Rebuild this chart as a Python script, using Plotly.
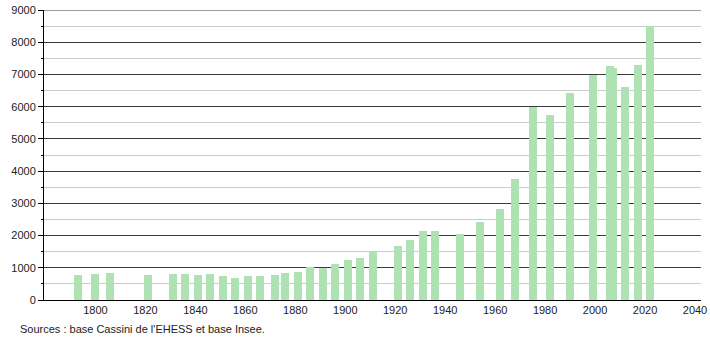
import plotly.graph_objects as go

years = [1793, 1800, 1806, 1821, 1831, 1836, 1841, 1846, 1851, 1856, 1861, 1866,
         1872, 1876, 1881, 1886, 1891, 1896, 1901, 1906, 1911, 1921, 1926, 1931,
         1936, 1946, 1954, 1962, 1968, 1975, 1982, 1990, 1999, 2006, 2007, 2012,
         2017, 2022]
population = [780, 810, 840, 770, 807, 807, 770, 807, 745, 690, 745, 745,
              775, 830, 870, 1010, 1000, 1117, 1250, 1313, 1480, 1676, 1872, 2141,
              2141, 2048, 2421, 2824, 3755, 5980, 5742, 6415, 6983, 7253, 7200, 6600,
              7293, 8504]
x_ticks = [1800, 1820, 1840, 1860, 1880, 1900, 1920, 1940, 1960, 1980, 2000, 2020, 2040]
y_ticks = [0, 1000, 2000, 3000, 4000, 5000, 6000, 7000, 8000, 9000]
source_text = "Sources : base Cassini de l'EHESS et base Insee."

fig = go.Figure()
fig.add_trace(go.Bar(
    x=years, y=population, width=3.2,
    marker=dict(color="#afe2b3", line=dict(width=0)),
    hoverinfo="x+y",
))

font = dict(family="Liberation Sans, Arial, sans-serif", size=11, color="#222222")

fig.update_layout(
    width=710, height=340,
    margin=dict(l=44, r=9, t=10, b=40),
    paper_bgcolor="white", plot_bgcolor="white",
    showlegend=False,
    font=font,
    bargap=0,
    xaxis=dict(
        range=[1779.4, 2042.4],
        tickvals=x_ticks, ticktext=[str(v) for v in x_ticks],
        showgrid=False, zeroline=False, automargin=False,
        showline=True, linecolor="black", linewidth=1,
        ticks="", tickfont=font,
    ),
    yaxis=dict(
        range=[0, y_ticks[-1]],
        tickvals=y_ticks, ticktext=[str(v) for v in y_ticks],
        showgrid=True, gridcolor="#3c3c3c", gridwidth=1,
        zeroline=False, automargin=False,
        showline=True, linecolor="black", linewidth=1,
        ticks="outside", ticklen=5, tickcolor="black", tickwidth=1,
        tickfont=font,
        minor=dict(dtick=500, tick0=0, ticks="outside", ticklen=2,
                   tickcolor="black", showgrid=True, gridcolor="#cccccc", gridwidth=1),
    ),
    shapes=[dict(
        type="line", xref="paper", yref="y", layer="below",
        x0=0, x1=1, y0=y_ticks[-1], y1=y_ticks[-1],
        line=dict(color="#3c3c3c", width=1),
    )],
    annotations=[dict(
        text=source_text, xref="paper", yref="paper",
        x=-0.039, y=-0.1, xanchor="left", yanchor="middle",
        showarrow=False, font=font,
    )],
)

fig.write_html("out.html")
